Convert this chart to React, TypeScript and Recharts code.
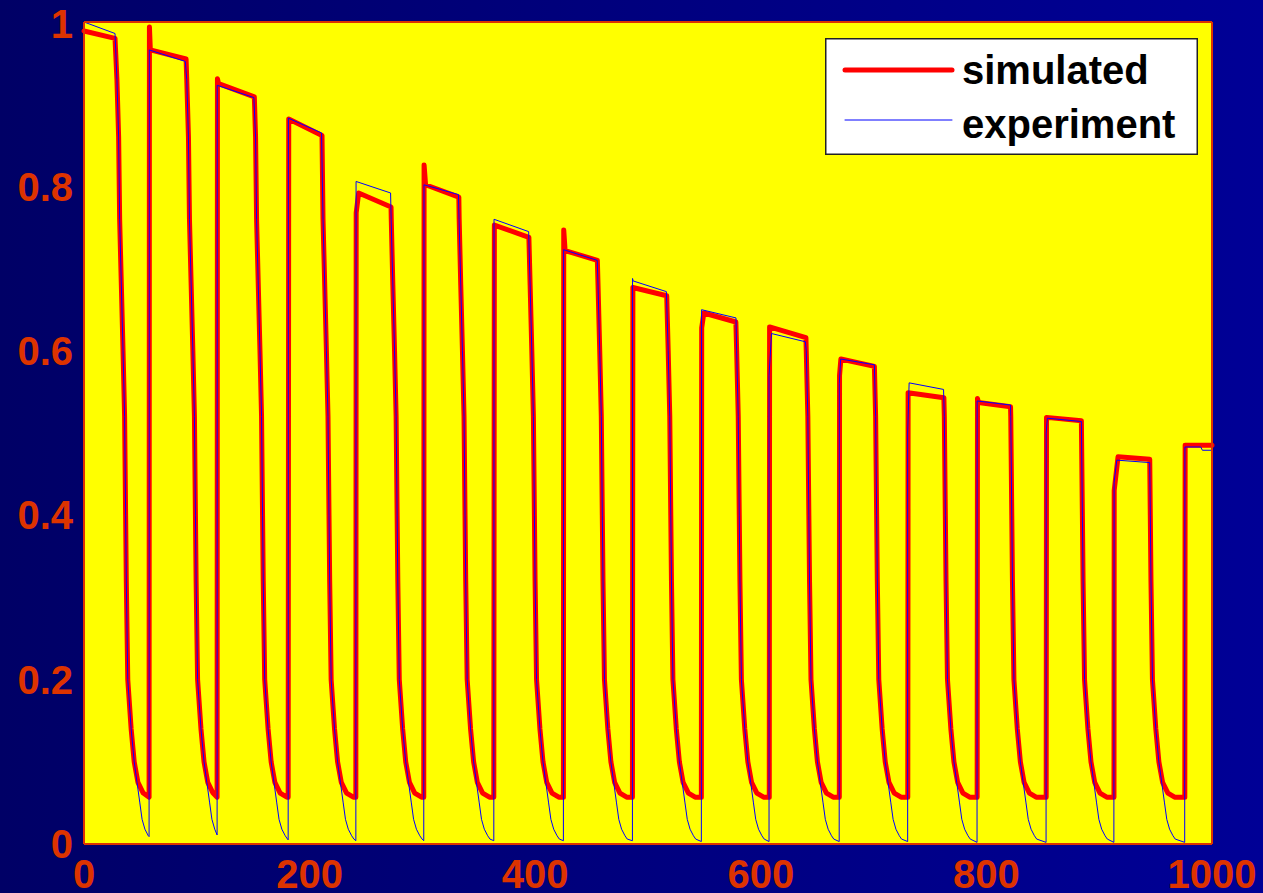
import React from "react";
import { LineChart, Line, XAxis, YAxis, CartesianGrid, Legend } from "recharts";

// [time, value] pairs, one row per cycle
const simulated: [number, number][] = [
  [0, 0.989], [27.5, 0.98], [29.2, 0.93], [30.7, 0.86], [31.6, 0.76], [33.1, 0.68], [34.6, 0.6], [36.0, 0.52], [36.9, 0.4], [37.5, 0.32], [38.8, 0.2], [41.8, 0.14], [44.5, 0.1], [47.8, 0.075], [52.5, 0.062], [57.7, 0.057],
  [58.0, 0.994], [58.8, 0.966], [90.5, 0.955], [91.1, 0.93], [92.6, 0.86], [93.5, 0.76], [95.0, 0.68], [96.5, 0.6], [97.9, 0.52], [98.8, 0.4], [99.4, 0.32], [100.7, 0.2], [103.7, 0.14], [106.4, 0.1], [109.7, 0.075], [114.4, 0.062], [118.0, 0.057],
  [118.3, 0.931], [119.3, 0.925], [151.0, 0.909], [152.1, 0.86], [153.0, 0.76], [154.5, 0.68], [156.0, 0.6], [157.4, 0.52], [158.3, 0.4], [158.9, 0.32], [160.2, 0.2], [163.2, 0.14], [165.9, 0.1], [169.2, 0.075], [173.9, 0.062], [179.9, 0.057], [181.0, 0.057],
  [181.5, 0.882], [211.0, 0.862], [211.9, 0.76], [213.4, 0.68], [214.9, 0.6], [216.3, 0.52], [217.2, 0.4], [217.8, 0.32], [219.1, 0.2], [222.1, 0.14], [224.8, 0.1], [228.1, 0.075], [232.8, 0.062], [238.8, 0.057], [241.0, 0.057],
  [241.3, 0.768], [243.5, 0.792], [272.2, 0.775], [272.4, 0.76], [273.8, 0.68], [275.3, 0.6], [276.7, 0.52], [277.6, 0.4], [278.2, 0.32], [279.5, 0.2], [282.5, 0.14], [285.2, 0.1], [288.5, 0.075], [293.2, 0.062], [299.2, 0.057], [301.2, 0.057],
  [301.5, 0.826], [302.8, 0.802], [332.3, 0.787], [332.6, 0.76], [334.0, 0.68], [335.5, 0.6], [336.9, 0.52], [337.8, 0.4], [338.4, 0.32], [339.7, 0.2], [342.7, 0.14], [345.4, 0.1], [348.7, 0.075], [353.4, 0.062], [359.4, 0.057], [363.3, 0.057],
  [363.8, 0.753], [394.4, 0.738], [395.5, 0.68], [397.0, 0.6], [398.4, 0.52], [399.3, 0.4], [399.9, 0.32], [401.2, 0.2], [404.2, 0.14], [406.9, 0.1], [410.2, 0.075], [414.9, 0.062], [420.9, 0.057], [425.0, 0.057],
  [425.3, 0.747], [426.5, 0.722], [455.1, 0.71], [455.7, 0.68], [457.2, 0.6], [458.6, 0.52], [459.5, 0.4], [460.1, 0.32], [461.4, 0.2], [464.4, 0.14], [467.1, 0.1], [470.4, 0.075], [475.1, 0.062], [481.1, 0.057], [486.2, 0.057],
  [486.6, 0.677], [516.6, 0.667], [517.9, 0.6], [519.3, 0.52], [520.2, 0.4], [520.8, 0.32], [522.1, 0.2], [525.1, 0.14], [527.8, 0.1], [531.1, 0.075], [535.8, 0.062], [541.8, 0.057], [547.3, 0.057],
  [547.6, 0.628], [549.5, 0.646], [577.9, 0.635], [578.6, 0.6], [580.0, 0.52], [580.9, 0.4], [581.5, 0.32], [582.8, 0.2], [585.8, 0.14], [588.5, 0.1], [591.8, 0.075], [596.5, 0.062], [602.5, 0.057], [607.5, 0.057],
  [607.8, 0.629], [640.0, 0.616], [640.3, 0.6], [641.7, 0.52], [642.6, 0.4], [643.2, 0.32], [644.5, 0.2], [647.5, 0.14], [650.2, 0.1], [653.5, 0.075], [658.2, 0.062], [664.2, 0.057], [669.6, 0.057],
  [669.8, 0.57], [671.0, 0.59], [700.7, 0.581], [701.8, 0.52], [702.7, 0.4], [703.3, 0.32], [704.6, 0.2], [707.6, 0.14], [710.3, 0.1], [713.6, 0.075], [718.3, 0.062], [724.3, 0.057], [730.3, 0.057],
  [730.6, 0.549], [762.3, 0.543], [762.7, 0.52], [763.6, 0.4], [764.2, 0.32], [765.5, 0.2], [768.5, 0.14], [771.2, 0.1], [774.5, 0.075], [779.2, 0.062], [785.2, 0.057], [791.8, 0.057],
  [792.1, 0.542], [793.0, 0.537], [821.4, 0.532], [821.6, 0.52], [822.5, 0.4], [823.1, 0.32], [824.4, 0.2], [827.4, 0.14], [830.1, 0.1], [833.4, 0.075], [838.1, 0.062], [844.1, 0.057], [853.0, 0.057],
  [853.3, 0.519], [884.2, 0.515], [885.1, 0.4], [885.7, 0.32], [887.0, 0.2], [890.0, 0.14], [892.7, 0.1], [896.0, 0.075], [900.7, 0.062], [906.7, 0.057], [913.1, 0.057],
  [913.3, 0.43], [916.7, 0.471], [944.8, 0.468], [945.3, 0.4], [945.9, 0.32], [947.2, 0.2], [950.2, 0.14], [952.9, 0.1], [956.2, 0.075], [960.9, 0.062], [966.9, 0.057], [975.9, 0.057],
  [976.2, 0.485], [1000, 0.485],
];

const experiment: [number, number][] = [
  [0, 1.0], [27.5, 0.986], [29.2, 0.93], [30.7, 0.86], [31.6, 0.76], [33.1, 0.68], [34.6, 0.6], [36.0, 0.52], [36.9, 0.4], [37.5, 0.32], [38.8, 0.2], [41.8, 0.14], [44.5, 0.1], [47.0, 0.075], [49.5, 0.05], [51.5, 0.03], [54.0, 0.018], [57.0, 0.01], [57.7, 0.009],
  [57.9, 0.966], [89.8, 0.952], [91.1, 0.93], [92.6, 0.86], [93.5, 0.76], [95.0, 0.68], [96.5, 0.6], [97.9, 0.52], [98.8, 0.4], [99.4, 0.32], [100.7, 0.2], [103.7, 0.14], [106.4, 0.1], [108.9, 0.075], [111.4, 0.05], [113.4, 0.03], [115.9, 0.018], [118.0, 0.011],
  [118.1, 0.923], [150.6, 0.908], [152.1, 0.86], [153.0, 0.76], [154.5, 0.68], [156.0, 0.6], [157.4, 0.52], [158.3, 0.4], [158.9, 0.32], [160.2, 0.2], [163.2, 0.14], [165.9, 0.1], [168.4, 0.075], [170.9, 0.05], [172.9, 0.03], [175.4, 0.018], [178.4, 0.01], [180.4, 0.006], [181.0, 0.005],
  [181.2, 0.883], [210.6, 0.865], [211.9, 0.76], [213.4, 0.68], [214.9, 0.6], [216.3, 0.52], [217.2, 0.4], [217.8, 0.32], [219.1, 0.2], [222.1, 0.14], [224.8, 0.1], [227.3, 0.075], [229.8, 0.05], [231.8, 0.03], [234.3, 0.018], [237.3, 0.01], [239.3, 0.006], [241.0, 0.004],
  [241.2, 0.806], [271.8, 0.792], [272.3, 0.76], [273.8, 0.68], [275.3, 0.6], [276.7, 0.52], [277.6, 0.4], [278.2, 0.32], [279.5, 0.2], [282.5, 0.14], [285.2, 0.1], [287.7, 0.075], [290.2, 0.05], [292.2, 0.03], [294.7, 0.018], [297.7, 0.01], [299.7, 0.006], [301.2, 0.004],
  [301.4, 0.802], [332.0, 0.79], [332.5, 0.76], [334.0, 0.68], [335.5, 0.6], [336.9, 0.52], [337.8, 0.4], [338.4, 0.32], [339.7, 0.2], [342.7, 0.14], [345.4, 0.1], [347.9, 0.075], [350.4, 0.05], [352.4, 0.03], [354.9, 0.018], [357.9, 0.01], [359.9, 0.006], [363.3, 0.004],
  [363.5, 0.76], [394.2, 0.745], [395.5, 0.68], [397.0, 0.6], [398.4, 0.52], [399.3, 0.4], [399.9, 0.32], [401.2, 0.2], [404.2, 0.14], [406.9, 0.1], [409.4, 0.075], [411.9, 0.05], [413.9, 0.03], [416.4, 0.018], [419.4, 0.01], [421.4, 0.006], [425.0, 0.004],
  [425.2, 0.723], [455.0, 0.71], [455.7, 0.68], [457.2, 0.6], [458.6, 0.52], [459.5, 0.4], [460.1, 0.32], [461.4, 0.2], [464.4, 0.14], [467.1, 0.1], [469.6, 0.075], [472.1, 0.05], [474.1, 0.03], [476.6, 0.018], [479.6, 0.01], [481.6, 0.006], [486.2, 0.004],
  [486.3, 0.688], [486.8, 0.685], [516.3, 0.672], [517.9, 0.6], [519.3, 0.52], [520.2, 0.4], [520.8, 0.32], [522.1, 0.2], [525.1, 0.14], [527.8, 0.1], [530.3, 0.075], [532.8, 0.05], [534.8, 0.03], [537.3, 0.018], [540.3, 0.01], [542.3, 0.006], [547.3, 0.003],
  [547.5, 0.65], [578.0, 0.64], [578.6, 0.6], [580.0, 0.52], [580.9, 0.4], [581.5, 0.32], [582.8, 0.2], [585.8, 0.14], [588.5, 0.1], [591.0, 0.075], [593.5, 0.05], [595.5, 0.03], [598.0, 0.018], [601.0, 0.01], [603.0, 0.006], [607.3, 0.003],
  [607.3, 0.57], [609.5, 0.621], [639.5, 0.611], [640.3, 0.6], [641.7, 0.52], [642.6, 0.4], [643.2, 0.32], [644.5, 0.2], [647.5, 0.14], [650.2, 0.1], [652.7, 0.075], [655.2, 0.05], [657.2, 0.03], [659.7, 0.018], [662.7, 0.01], [664.7, 0.006], [669.5, 0.003],
  [669.6, 0.56], [670.8, 0.59], [700.7, 0.583], [701.8, 0.52], [702.7, 0.4], [703.3, 0.32], [704.6, 0.2], [707.6, 0.14], [710.3, 0.1], [712.8, 0.075], [715.3, 0.05], [717.3, 0.03], [719.8, 0.018], [722.8, 0.01], [724.8, 0.006], [730.2, 0.003],
  [730.2, 0.5], [731.5, 0.561], [762.0, 0.553], [762.7, 0.52], [763.6, 0.4], [764.2, 0.32], [765.5, 0.2], [768.5, 0.14], [771.2, 0.1], [773.7, 0.075], [776.2, 0.05], [778.2, 0.03], [780.7, 0.018], [783.7, 0.01], [785.7, 0.006], [791.7, 0.002],
  [791.8, 0.539], [821.4, 0.534], [821.6, 0.52], [822.5, 0.4], [823.1, 0.32], [824.4, 0.2], [827.4, 0.14], [830.1, 0.1], [832.6, 0.075], [835.1, 0.05], [837.1, 0.03], [839.6, 0.018], [842.6, 0.01], [844.6, 0.006], [852.9, 0.002],
  [853.0, 0.5], [854.0, 0.518], [884.2, 0.514], [885.1, 0.4], [885.7, 0.32], [887.0, 0.2], [890.0, 0.14], [892.7, 0.1], [895.2, 0.075], [897.7, 0.05], [899.7, 0.03], [902.2, 0.018], [905.2, 0.01], [907.2, 0.006], [913.0, 0.002],
  [913.2, 0.44], [915.6, 0.467], [944.8, 0.464], [945.3, 0.4], [945.9, 0.32], [947.2, 0.2], [950.2, 0.14], [952.9, 0.1], [955.4, 0.075], [957.9, 0.05], [959.9, 0.03], [962.4, 0.018], [965.4, 0.01], [967.4, 0.006], [975.8, 0.002],
  [976.0, 0.483], [990.0, 0.483], [991.5, 0.479], [1000, 0.479],
];

const seriesNames = ["simulated", "experiment"];
const xTicks = [0, 200, 400, 600, 800, 1000];
const yTicks = [0, 0.2, 0.4, 0.6, 0.8, 1];

const AXIS = "#dd3300";
const FONT = "'Liberation Sans', Arial, sans-serif";

const toRows = (pts: [number, number][]) => pts.map(([x, y]) => ({ x, y }));

const widths: Record<string, number> = { simulated: 5, experiment: 1 };

function LegendBox(props: any) {
  // keep the legend in the order the series were listed
  const payload = [...(props.payload || [])].sort(
    (a: any, b: any) => seriesNames.indexOf(a.value) - seriesNames.indexOf(b.value)
  );
  return (
    <svg width={373} height={117} style={{ display: "block" }}>
      <rect x={0.75} y={0.75} width={371.5} height={115.5} fill="#fff" stroke="#222" strokeWidth={1.5} />
      {payload.map((p: any, i: number) => (
        <g key={p.value}>
          <line
            x1={20}
            x2={127}
            y1={32 + i * 50}
            y2={32 + i * 50}
            stroke={p.color}
            strokeWidth={widths[p.value] ?? 1}
            strokeLinecap="round"
          />
          <text x={137} y={46 + i * 54} fontFamily={FONT} fontWeight="bold" fontSize={40} fill="#000">
            {p.value}
          </text>
        </g>
      ))}
    </svg>
  );
}

export default function App() {
  const tickStyle = { fill: AXIS, fontSize: 40, fontWeight: "bold", fontFamily: FONT };
  return (
    <div
      style={{
        position: "absolute",
        left: 0,
        top: 0,
        width: 1263,
        height: 893,
        background: "linear-gradient(to right, #000066, #000096)",
      }}
    >
      <LineChart width={1263} height={893} margin={{ top: 22, right: 51, bottom: 0, left: 0 }}>
        <CartesianGrid horizontal={false} vertical={false} fill="#ffff00" fillOpacity={1} />
        <XAxis
          dataKey="x"
          type="number"
          domain={[0, 1000]}
          ticks={xTicks}
          height={49}
          tick={tickStyle}
          tickLine={false}
          tickSize={0}
          tickMargin={16}
          axisLine={{ stroke: AXIS, strokeWidth: 2 }}
        />
        <XAxis
          xAxisId="bottomIn"
          type="number"
          domain={[0, 1000]}
          ticks={xTicks}
          mirror
          tick={false}
          tickSize={12}
          tickLine={{ stroke: AXIS }}
          axisLine={false}
        />
        <XAxis
          xAxisId="top"
          orientation="top"
          type="number"
          domain={[0, 1000]}
          ticks={xTicks}
          mirror
          tick={false}
          tickSize={12}
          tickLine={{ stroke: AXIS }}
          axisLine={{ stroke: AXIS, strokeWidth: 2 }}
        />
        <YAxis
          type="number"
          domain={[0, 1]}
          ticks={yTicks}
          width={84}
          tick={tickStyle}
          tickLine={false}
          tickSize={0}
          tickMargin={11}
          axisLine={{ stroke: AXIS, strokeWidth: 2 }}
        />
        <YAxis
          yAxisId="leftIn"
          type="number"
          domain={[0, 1]}
          ticks={yTicks}
          mirror
          tick={false}
          tickSize={12}
          tickLine={{ stroke: AXIS }}
          axisLine={false}
        />
        <YAxis
          yAxisId="right"
          orientation="right"
          type="number"
          domain={[0, 1]}
          ticks={yTicks}
          mirror
          tick={false}
          tickSize={12}
          tickLine={{ stroke: AXIS }}
          axisLine={{ stroke: AXIS, strokeWidth: 2 }}
        />
        <Legend
          layout="vertical"
          align="center"
          verticalAlign="middle"
          content={<LegendBox />}
          wrapperStyle={{ left: 825, top: 38, width: 373, height: 117 }}
        />
        <Line
          name="simulated"
          data={toRows(simulated)}
          dataKey="y"
          type="linear"
          stroke="#ff0000"
          strokeWidth={5}
          strokeLinejoin="round"
          strokeLinecap="round"
          dot={false}
          activeDot={false}
          isAnimationActive={false}
        />
        <Line
          name="experiment"
          data={toRows(experiment)}
          dataKey="y"
          type="linear"
          stroke="#0000ff"
          strokeWidth={1}
          dot={false}
          activeDot={false}
          isAnimationActive={false}
        />
      </LineChart>
    </div>
  );
}
